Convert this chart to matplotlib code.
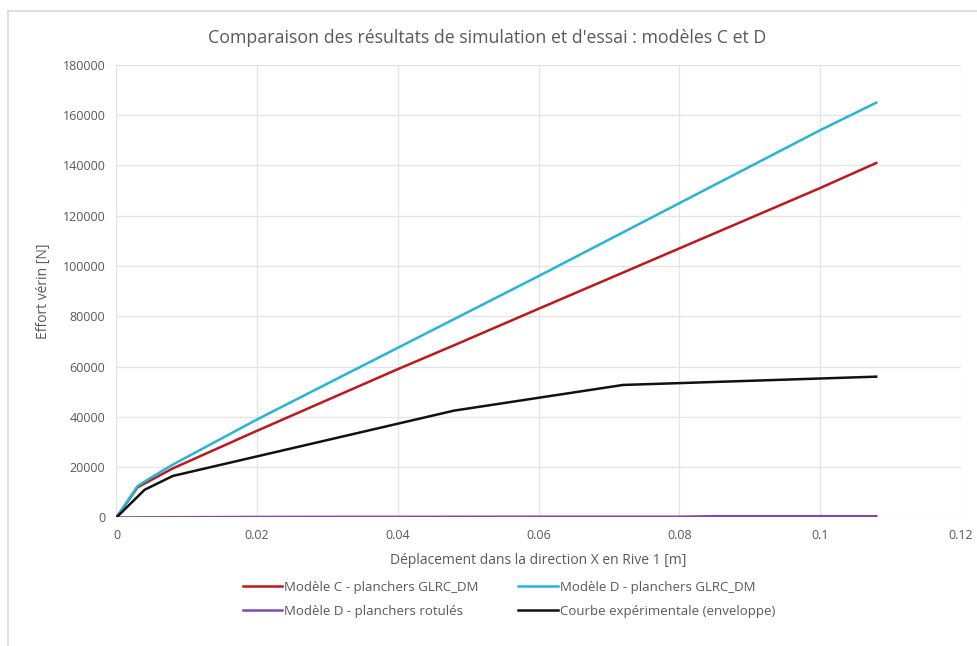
import matplotlib
matplotlib.use("Agg")
import matplotlib.pyplot as plt
from matplotlib.lines import Line2D

# donnees
x_c = [0, 0.003, 0.008, 0.02, 0.04, 0.048, 0.06, 0.08, 0.1, 0.108]
y_c = [0, 12000, 19500, 34500, 59000, 68500, 83000, 107000, 131000, 141000]

x_d = [0, 0.003, 0.005, 0.008, 0.02, 0.04, 0.06, 0.08, 0.1, 0.108]
y_d = [0, 12500, 16000, 21000, 39000, 67500, 96000, 125000, 154000, 165000]

x_rot = [0, 0.02, 0.04, 0.06, 0.08, 0.085, 0.108]
y_rot = [0, 200, 250, 300, 300, 500, 500]

x_exp = [0, 0.004, 0.008, 0.048, 0.072, 0.108]
y_exp = [0, 11000, 16500, 42500, 52700, 56000]

labels = ["Modèle C - planchers GLRC_DM", "Modèle D - planchers GLRC_DM",
          "Modèle D - planchers rotulés", "Courbe expérimentale (enveloppe)"]
colors = ["#c0161d", "#25b5d6", "#7d4bb0", "#111111"]

xticks = [0, 0.02, 0.04, 0.06, 0.08, 0.1, 0.12]
xticklabels = ["0", "0.02", "0.04", "0.06", "0.08", "0.1", "0.12"]
yticks = list(range(0, 180001, 20000))

plt.rcParams['font.family'] = ['Open Sans', 'DejaVu Sans']
txt = "#595959"

fig = plt.figure(figsize=(9.77, 6.46), dpi=100)
ax = fig.add_axes([0.1192, 0.199, 0.8641, 0.7005])

series = [(x_c, y_c), (x_d, y_d), (x_rot, y_rot), (x_exp, y_exp)]
lines = []
for (xs, ys), lab, col in zip(series, labels, colors):
  l, = ax.plot(xs, ys, color=col, lw=1.8, label=lab)
  lines.append(l)

ax.set_xlim(0, 0.12)
ax.set_ylim(0, 180000)
ax.set_xticks(xticks)
ax.set_xticklabels(xticklabels)
ax.set_yticks(yticks)
ax.grid(True, color="#e3e3e3", lw=0.9)
ax.set_axisbelow(True)
for s in ax.spines.values():
  s.set_visible(False)
ax.tick_params(length=0, labelsize=9, colors=txt, pad=8)

ax.set_xlabel("Déplacement dans la direction X en Rive 1 [m]", fontsize=10, color=txt, labelpad=8)
ax.set_ylabel("Effort vérin [N]", fontsize=10, color=txt, labelpad=8)
fig.text(0.499, 1 - 38/646, "Comparaison des résultats de simulation et d'essai : modèles C et D",
         ha="center", va="center", fontsize=12.8, color=txt)

# legende remplie par lignes comme dans Excel
order = [0, 2, 1, 3]
leg = fig.legend([lines[i] for i in order], [labels[i] for i in order],
                 loc="center", bbox_to_anchor=(0.521, 0.072), ncol=2, frameon=False,
                 fontsize=9.5, handlelength=3.0, handletextpad=0.15, columnspacing=3.0,
                 labelspacing=0.85)
for t in leg.get_texts():
  t.set_color(txt)

# cadre du graphique
fig.add_artist(Line2D([8/977, 8/977], [0, 1 - 11/646], color="#d9d9d9", lw=1.2,
                      transform=fig.transFigure))
fig.add_artist(Line2D([8/977, 1], [1 - 11/646, 1 - 11/646], color="#d9d9d9", lw=1.2,
                      transform=fig.transFigure))

fig.savefig("out.png", dpi=100)
